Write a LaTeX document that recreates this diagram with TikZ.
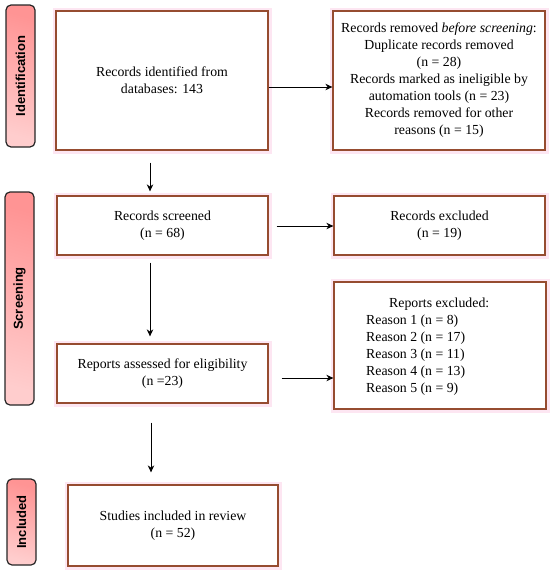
\documentclass[tikz,border=0pt]{standalone}
\usepackage{fontspec}
\setmainfont{Liberation Serif}
\setsansfont{Liberation Sans}
\usetikzlibrary{arrows.meta,calc}
\definecolor{boxc}{RGB}{150,76,48}
\definecolor{haloc}{RGB}{253,230,242}
\definecolor{lblA}{RGB}{255,205,205}
\definecolor{lblB}{RGB}{255,148,148}
\newcommand{\vtext}[1]{\rotatebox{90}{#1}}
\begin{document}
\begin{tikzpicture}[x=1pt,y=-1pt,
  box/.style={draw=boxc, line width=1.3pt, fill=white, inner sep=2pt,
    preaction={draw=haloc, line width=7pt},
    font=\fontsize{13.8}{17}\selectfont, align=center},
  phase/.style={draw=black!85, line width=1.2pt, rounded corners=5pt,
    top color=lblB, bottom color=lblA, shading angle=-15,
    font=\sffamily\bfseries\fontsize{13}{15}\selectfont, inner sep=0pt},
  txt/.style={font=\fontsize{13.8}{17}\selectfont, inner sep=0pt},
  arr/.style={-{Stealth[length=7pt,width=6.5pt]}, line width=0.9pt, black}]
\useasboundingbox (0,0) rectangle (550,570);
% phase labels
\node[phase, minimum height=142, minimum width=29] (L1) at (20.5,76) {\vtext{Identification}};
\node[phase, minimum height=213, minimum width=29] (L2) at (19.5,298.5) {\vtext{Screening}};
\node[phase, minimum height=86, minimum width=29] (L3) at (21.5,522) {\vtext{Included}};
% boxes
\node[box, minimum width=212, minimum height=139] (b1) at (162,80.5)
  {Records identified from\\databases: 143};
\node[box, minimum width=212, minimum height=139] (b2) at (439,80.5)
  {Records removed \emph{before screening}:\\Duplicate records removed\\(n = 28)\\Records marked as ineligible by\\automation tools (n = 23)\\Records removed for other\\reasons (n = 15)};
\node[box, minimum width=211, minimum height=59] (b3) at (162.5,225.5)
  {Records screened\\(n = 68)};
\node[box, minimum width=211, minimum height=59] (b4) at (162.5,373.5)
  {Reports assessed for eligibility\\(n =23)};
\node[box, minimum width=211, minimum height=59] (b5) at (439.5,225.5)
  {Records excluded\\(n = 19)};
\node[box, minimum width=212, minimum height=127] (b6) at (440,345.5) {};
\node[txt, anchor=west, align=left] (b6t) at (366,347)
  {\hspace*{23pt}Reports excluded:\\Reason 1 (n = 8)\\Reason 2 (n = 17)\\Reason 3 (n = 11)\\Reason 4 (n = 13)\\Reason 5 (n = 9)};
\node[box, minimum width=210, minimum height=81] (b7) at (173,525.5)
  {Studies included in review\\(n = 52)};
% connectors
\draw[arr] ([yshift=-6.5pt]b1.east) -- ([yshift=-6.5pt]b2.west);
\draw[arr, shorten <=12pt, shorten >=4pt] ([xshift=-12pt]b1.south) -- ([xshift=-12.5pt]b3.north);
\draw[arr, shorten <=7pt, shorten >=7pt] ([xshift=-12.5pt]b3.south) -- ([xshift=-12.5pt]b4.north);
\coordinate (s4) at ([xshift=-11.5pt]b4.south);
\draw[arr, shorten <=19pt, shorten >=12pt] (s4) -- (s4 |- b7.north);
\draw[arr, shorten <=8pt] ([yshift=-0.5pt]b3.east) -- ([yshift=-0.5pt]b3.east -| b5.west);
\coordinate (s6) at ([yshift=-4.5pt]b4.east);
\draw[arr, shorten <=13pt] (s6) -- (s6 -| b6.west);
\end{tikzpicture}
\end{document}
